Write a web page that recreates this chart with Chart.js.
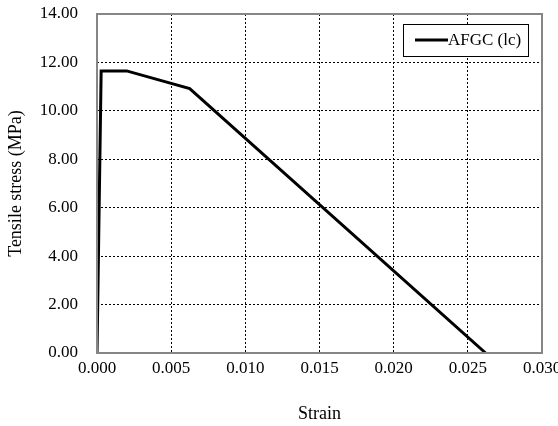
<!DOCTYPE html>
<html>
<head>
<meta charset="utf-8">
<title>AFGC tensile law</title>
<script src="https://cdn.jsdelivr.net/npm/chart.js"></script>
<style>
  html, body { margin: 0; padding: 0; background: #fff; }
  canvas { display: block; }
</style>
</head>
<body>
<canvas id="stressChart" width="558" height="426"></canvas>
<script>
const seriesName = 'AFGC (lc)';
const strain = [0, 0.00028, 0.0020, 0.00625, 0.0262];
const stress = [0, 11.65, 11.65, 10.92, 0];

const serif = "'Liberation Serif', 'Times New Roman', serif";

// box + frame drawn on top of the plot area
const frameAndLegend = {
  id: 'frameAndLegend',
  afterDraw(chart) {
    const { ctx, chartArea: a } = chart;
    ctx.save();
    ctx.strokeStyle = '#868686';
    ctx.lineWidth = 2;
    ctx.strokeRect(a.left, a.top, a.right - a.left, a.bottom - a.top);

    const w = 125, h = 32;
    const x = a.right - 14 - w, y = a.top + 10;
    ctx.fillStyle = '#fff';
    ctx.fillRect(x, y, w, h);
    ctx.strokeStyle = '#000';
    ctx.lineWidth = 1;
    ctx.strokeRect(x + 0.5, y + 0.5, w, h);

    ctx.lineWidth = 3;
    ctx.beginPath();
    ctx.moveTo(x + 12, y + 16);
    ctx.lineTo(x + 45, y + 16);
    ctx.stroke();

    ctx.fillStyle = '#000';
    ctx.font = '17px ' + serif;
    ctx.textBaseline = 'middle';
    ctx.fillText(chart.data.datasets[0].label, x + 45, y + 17);
    ctx.restore();
  }
};

new Chart(document.getElementById('stressChart'), {
  type: 'line',
  data: {
    datasets: [{
      label: seriesName,
      data: strain.map((s, i) => ({ x: s, y: stress[i] })),
      borderColor: '#000',
      borderWidth: 3,
      pointRadius: 0,
      tension: 0,
      fill: false
    }]
  },
  options: {
    responsive: false,
    devicePixelRatio: 1,
    animation: false,
    layout: { padding: { top: 14, right: 16, left: 0, bottom: 0 } },
    plugins: { legend: { display: false }, tooltip: { enabled: false } },
    scales: {
      x: {
        type: 'linear',
        min: 0,
        max: 0.03,
        ticks: {
          stepSize: 0.005,
          color: '#000',
          font: { family: serif, size: 17 },
          padding: 5,
          maxRotation: 0,
          callback: v => v.toFixed(3)
        },
        grid: { color: '#000', lineWidth: 1, drawTicks: false },
        border: { display: false, dash: [2, 2] },
        title: {
          display: true,
          text: 'Strain',
          color: '#000',
          font: { family: serif, size: 18 },
          padding: { top: 0, bottom: 1 }
        },
        afterFit(scale) {
          scale.height = 73;
          scale.paddingLeft = 0;
          scale.paddingRight = 0;
        }
      },
      y: {
        min: 0,
        max: 14,
        ticks: {
          stepSize: 2,
          color: '#000',
          font: { family: serif, size: 17 },
          padding: 19,
          callback: v => v.toFixed(2)
        },
        grid: { color: '#000', lineWidth: 1, drawTicks: false },
        border: { display: false, dash: [2, 2] },
        title: {
          display: true,
          text: 'Tensile stress (MPa)',
          color: '#000',
          font: { family: serif, size: 18 },
          padding: { top: 5, bottom: 0 }
        },
        afterFit(scale) {
          scale.width = 97;
          scale.paddingTop = 0;
          scale.paddingBottom = 0;
        }
      }
    }
  },
  plugins: [frameAndLegend]
});
</script>
</body>
</html>
